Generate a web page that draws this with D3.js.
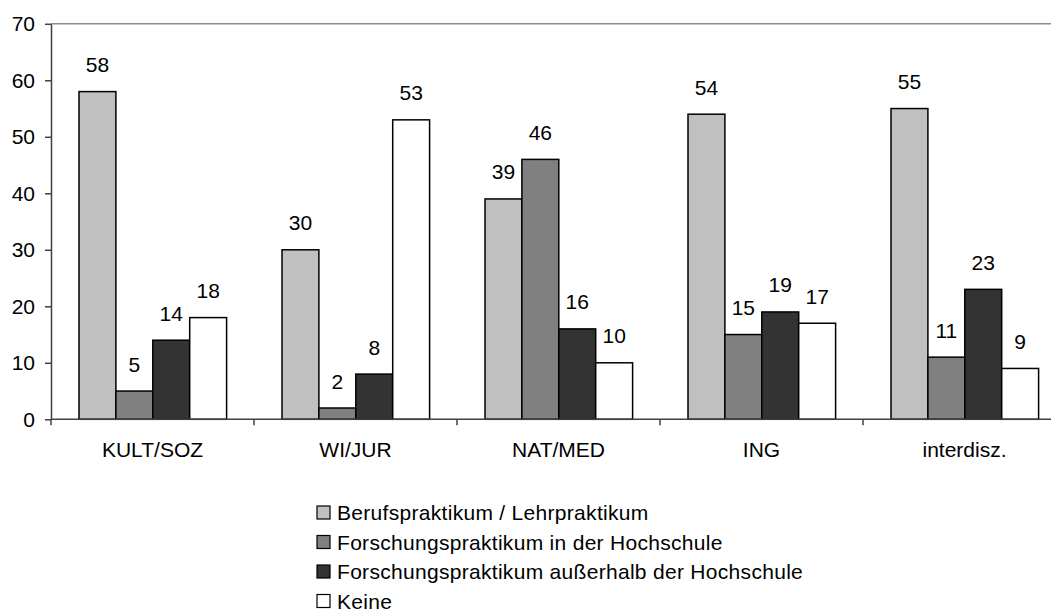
<!DOCTYPE html>
<html>
<head>
<meta charset="utf-8">
<script src="https://cdn.jsdelivr.net/npm/d3@7/dist/d3.min.js"></script>
<style>
  html, body { margin: 0; padding: 0; background: #fff; }
  svg { display: block; font-family: "Liberation Sans", Arial, sans-serif; }
</style>
</head>
<body>
<svg id="chart" width="1051" height="613"></svg>
<script>
const categories = ["KULT/SOZ", "WI/JUR", "NAT/MED", "ING", "interdisz."];
const seriesNames = [
  "Berufspraktikum / Lehrpraktikum",
  "Forschungspraktikum in der Hochschule",
  "Forschungspraktikum außerhalb der Hochschule",
  "Keine"
];
const berufspraktikum = [58, 30, 39, 54, 55];
const forschungIn = [5, 2, 46, 15, 11];
const forschungAusser = [14, 8, 16, 19, 23];
const keine = [18, 53, 10, 17, 9];
const yTicks = [0, 10, 20, 30, 40, 50, 60, 70];
const seriesColors = ["#C0C0C0", "#808080", "#333333", "#FFFFFF"];

const seriesValues = [berufspraktikum, forschungIn, forschungAusser, keine];

const svg = d3.select("#chart");
const W = 1051;
const FS = 21;
const plot = { left: 51, top: 23.8, bottom: 419.3, bandW: 203 };

const x0 = d3.scaleBand()
  .domain(categories)
  .range([plot.left, plot.left + categories.length * plot.bandW])
  .paddingInner(0).paddingOuter(0);

const x1 = d3.scaleBand()
  .domain(d3.range(seriesNames.length))
  .range([28, 28 + 4 * 36.9]);

const y = d3.scaleLinear().domain([0, 70]).range([plot.bottom, plot.top]);

// top border line (at 70)
svg.append("line")
  .attr("x1", plot.left).attr("x2", W)
  .attr("y1", y(70)).attr("y2", y(70))
  .attr("stroke", "#8c8c8c").attr("stroke-width", 1.5);

// bars
const data = [];
categories.forEach((c, ci) => {
  seriesValues.forEach((vals, si) => {
    data.push({ cat: c, s: si, v: vals[ci] });
  });
});

const g = svg.append("g");
g.selectAll("rect.bar").data(data).enter().append("rect")
  .attr("class", "bar")
  .attr("x", d => x0(d.cat) + x1(d.s))
  .attr("y", d => y(d.v))
  .attr("width", x1.bandwidth())
  .attr("height", d => y(0) - y(d.v))
  .attr("fill", d => seriesColors[d.s])
  .attr("stroke", "#000").attr("stroke-width", 1.5);

g.selectAll("text.val").data(data).enter().append("text")
  .attr("class", "val")
  .attr("x", d => x0(d.cat) + x1(d.s) + x1.bandwidth() / 2)
  .attr("y", d => y(d.v) - 19.5)
  .attr("text-anchor", "middle")
  .attr("font-size", FS)
  .attr("fill", "#000")
  .text(d => d.v);

// y axis
const yAxis = d3.axisLeft(y).tickValues(yTicks).tickSize(6).tickPadding(10).tickSizeOuter(0);
const ya = svg.append("g").attr("transform", `translate(${plot.left},0)`).call(yAxis);
ya.select(".domain").attr("stroke", "#404040").attr("stroke-width", 1.5);
ya.selectAll(".tick line").attr("stroke", "#404040").attr("stroke-width", 1.5);
ya.selectAll(".tick text").attr("font-size", FS).attr("fill", "#000")
  .attr("font-family", "Liberation Sans, Arial, sans-serif");

// x axis
svg.append("line")
  .attr("x1", plot.left).attr("x2", W)
  .attr("y1", y(0)).attr("y2", y(0))
  .attr("stroke", "#404040").attr("stroke-width", 1.5);
const tickXs = categories.map(c => x0(c)).concat([x0(categories[categories.length - 1]) + x0.bandwidth()]);
svg.selectAll("line.xt").data(tickXs).enter().append("line")
  .attr("class", "xt")
  .attr("x1", d => d).attr("x2", d => d)
  .attr("y1", y(0)).attr("y2", y(0) + 6)
  .attr("stroke", "#404040").attr("stroke-width", 1.5);
svg.selectAll("text.cat").data(categories).enter().append("text")
  .attr("class", "cat")
  .attr("x", d => x0(d) + x0.bandwidth() / 2)
  .attr("y", 457)
  .attr("text-anchor", "middle")
  .attr("font-size", FS)
  .attr("fill", "#000")
  .text(d => d);

// legend
const leg = svg.append("g").attr("transform", "translate(317,506)");
const rows = leg.selectAll("g").data(seriesNames).enter().append("g")
  .attr("transform", (d, i) => `translate(0,${i * 29.5})`);
rows.append("rect")
  .attr("x", 0).attr("y", 0).attr("width", 13).attr("height", 13)
  .attr("fill", (d, i) => seriesColors[i])
  .attr("stroke", "#000").attr("stroke-width", 1.2);
rows.append("text")
  .attr("x", 20).attr("y", 14)
  .attr("font-size", FS)
  .attr("letter-spacing", 0.3)
  .attr("fill", "#000")
  .text(d => d);
</script>
</body>
</html>
